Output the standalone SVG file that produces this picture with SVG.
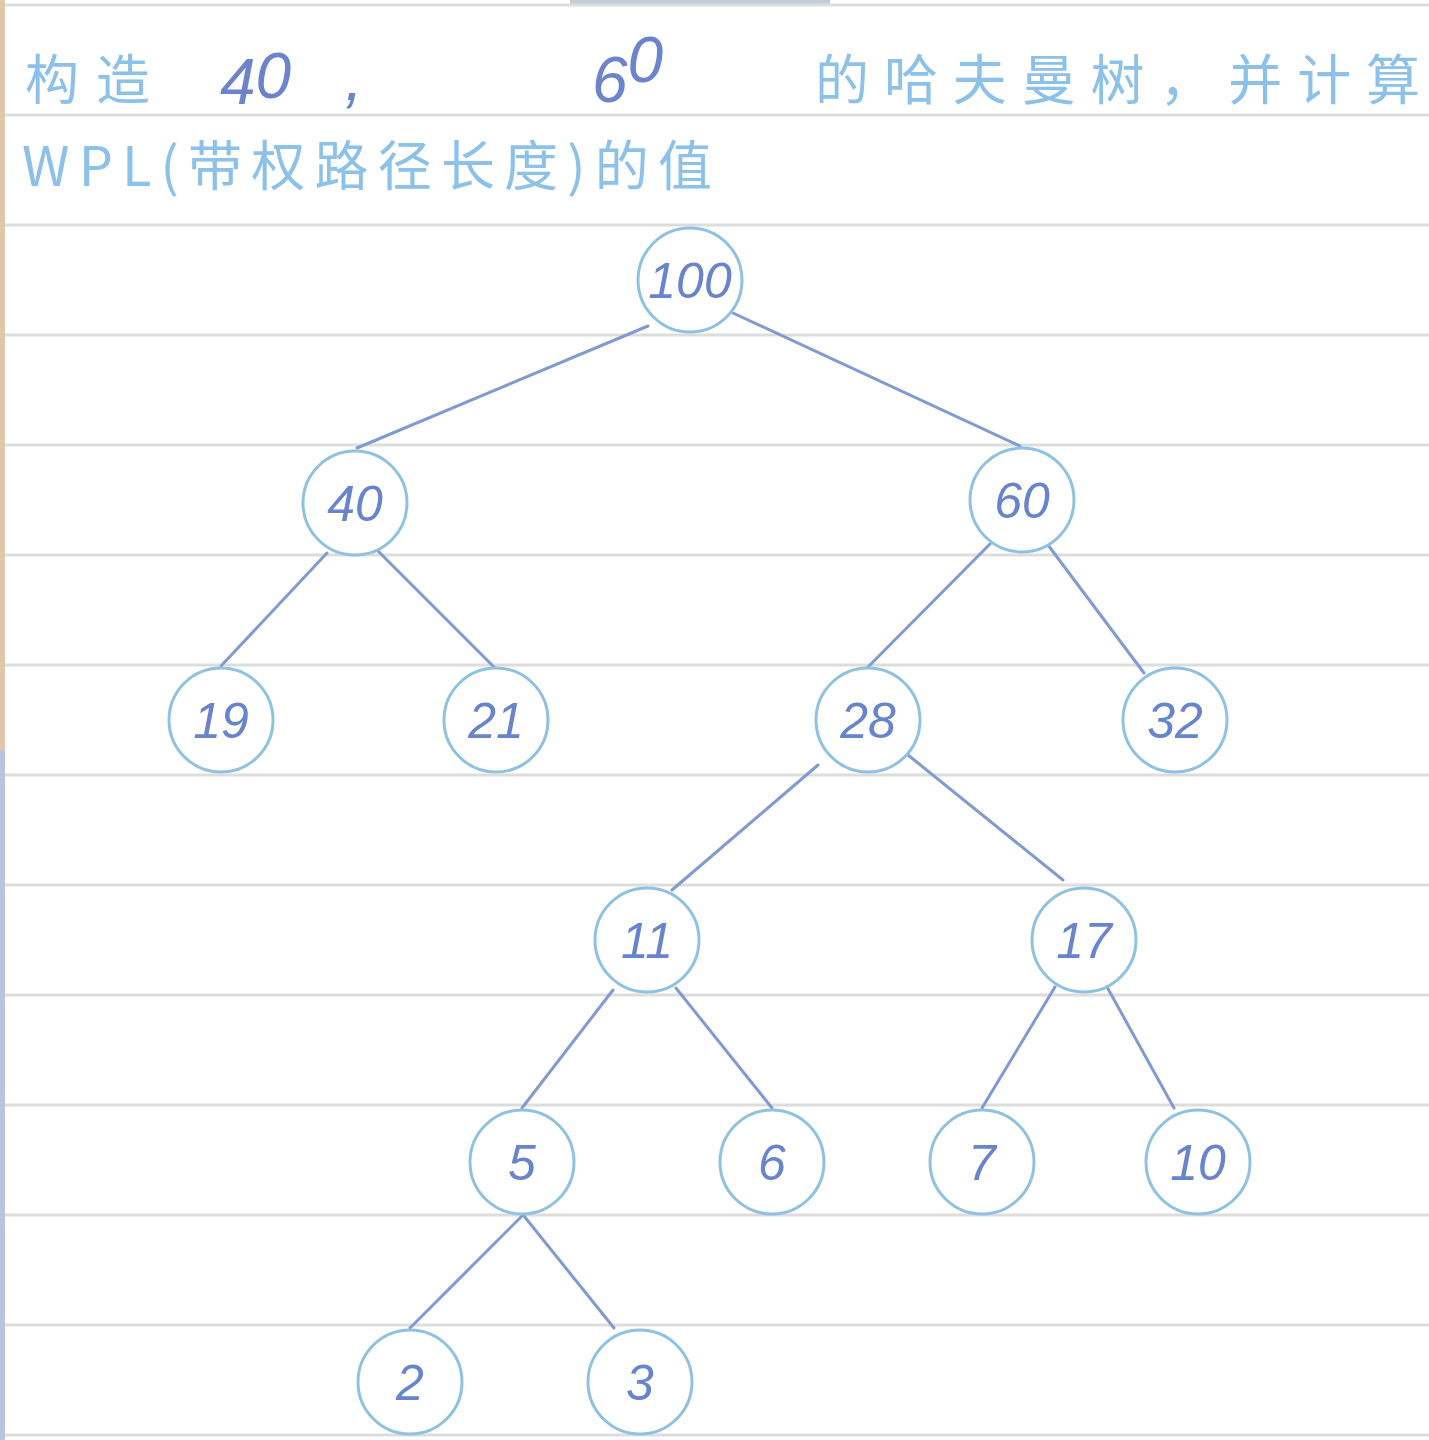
<svg xmlns="http://www.w3.org/2000/svg" width="1429" height="1440" viewBox="0 0 1429 1440">
<style>
.rule{stroke:#dddddd;stroke-width:3}
.node circle{fill:#ffffff;stroke:#8fc1e3;stroke-width:3}
.node text{font-family:"Liberation Sans","DejaVu Sans",sans-serif;font-size:50px;fill:#6784cc;text-anchor:middle;font-style:italic}
.edge{stroke:#7f9bd2;stroke-width:3;fill:none;stroke-linecap:round}
.cn{font-family:"Noto Sans CJK SC","Noto Sans CJK JP",sans-serif;font-size:54px;fill:#8cc1ea}
.hw{font-family:"Liberation Sans","DejaVu Sans",sans-serif;font-size:64px;fill:#6b84cc;font-style:italic}
</style>
<rect x="0" y="0" width="1429" height="1440" fill="#ffffff"/>
<g id="paper">
<rect x="570" y="0" width="260" height="5" fill="#c4ccd8"/>
<line class="rule" x1="0" y1="5" x2="1429" y2="5"/>
<line class="rule" x1="0" y1="115" x2="1429" y2="115"/>
<line class="rule" x1="0" y1="225" x2="1429" y2="225"/>
<line class="rule" x1="0" y1="335" x2="1429" y2="335"/>
<line class="rule" x1="0" y1="445" x2="1429" y2="445"/>
<line class="rule" x1="0" y1="555" x2="1429" y2="555"/>
<line class="rule" x1="0" y1="665" x2="1429" y2="665"/>
<line class="rule" x1="0" y1="775" x2="1429" y2="775"/>
<line class="rule" x1="0" y1="885" x2="1429" y2="885"/>
<line class="rule" x1="0" y1="995" x2="1429" y2="995"/>
<line class="rule" x1="0" y1="1105" x2="1429" y2="1105"/>
<line class="rule" x1="0" y1="1215" x2="1429" y2="1215"/>
<line class="rule" x1="0" y1="1325" x2="1429" y2="1325"/>
<line class="rule" x1="0" y1="1435" x2="1429" y2="1435"/>
<rect x="0" y="0" width="5" height="750" fill="#e2c6aa"/>
<rect x="0" y="750" width="5" height="690" fill="#b9c3e2"/>
</g>
<g id="title">
<text class="cn" x="25" y="100" textLength="125" lengthAdjust="spacing">构造</text>
<text class="hw" x="220" y="104">4<tspan dy="-6">0</tspan></text>
<text class="hw" x="345" y="100" font-size="50">,</text>
<text class="hw" x="592" y="102">6<tspan dy="-20">0</tspan></text>
<text class="cn" x="815" y="100" textLength="605" lengthAdjust="spacing">的哈夫曼树，并计算</text>
<text class="cn" x="22" y="186" textLength="690" lengthAdjust="spacing">WPL(带权路径长度)的值</text>
</g>
<g id="connectors">
<line class="edge" x1="648" y1="326" x2="357" y2="448"/>
<line class="edge" x1="733" y1="313" x2="1020" y2="446"/>
<line class="edge" x1="327" y1="553" x2="221" y2="666"/>
<line class="edge" x1="377" y1="550" x2="494" y2="667"/>
<line class="edge" x1="990" y1="544" x2="868" y2="667"/>
<line class="edge" x1="1048" y1="545" x2="1144" y2="673"/>
<line class="edge" x1="818" y1="765" x2="672" y2="890"/>
<line class="edge" x1="908" y1="755" x2="1063" y2="880"/>
<line class="edge" x1="613" y1="990" x2="522" y2="1108"/>
<line class="edge" x1="676" y1="988" x2="772" y2="1108"/>
<line class="edge" x1="1055" y1="987" x2="982" y2="1108"/>
<line class="edge" x1="1107" y1="987" x2="1174" y2="1108"/>
<line class="edge" x1="522" y1="1216" x2="410" y2="1328"/>
<line class="edge" x1="524" y1="1216" x2="614" y2="1328"/>
</g>
<g id="n100" class="node"><circle cx="690" cy="280" r="52"/><text x="690" y="298">100</text></g>
<g id="n40" class="node"><circle cx="355" cy="503" r="52"/><text x="355" y="521">40</text></g>
<g id="n60" class="node"><circle cx="1022" cy="500" r="52"/><text x="1022" y="518">60</text></g>
<g id="n19" class="node"><circle cx="221" cy="720" r="52"/><text x="221" y="738">19</text></g>
<g id="n21" class="node"><circle cx="496" cy="720" r="52"/><text x="496" y="738">21</text></g>
<g id="n28" class="node"><circle cx="868" cy="720" r="52"/><text x="868" y="738">28</text></g>
<g id="n32" class="node"><circle cx="1175" cy="720" r="52"/><text x="1175" y="738">32</text></g>
<g id="n11" class="node"><circle cx="647" cy="940" r="52"/><text x="647" y="958">11</text></g>
<g id="n17" class="node"><circle cx="1084" cy="940" r="52"/><text x="1084" y="958">17</text></g>
<g id="n5" class="node"><circle cx="522" cy="1162" r="52"/><text x="522" y="1180">5</text></g>
<g id="n6" class="node"><circle cx="772" cy="1162" r="52"/><text x="772" y="1180">6</text></g>
<g id="n7" class="node"><circle cx="982" cy="1162" r="52"/><text x="982" y="1180">7</text></g>
<g id="n10" class="node"><circle cx="1198" cy="1162" r="52"/><text x="1198" y="1180">10</text></g>
<g id="n2" class="node"><circle cx="410" cy="1382" r="52"/><text x="410" y="1400">2</text></g>
<g id="n3" class="node"><circle cx="640" cy="1382" r="52"/><text x="640" y="1400">3</text></g>
</svg>
